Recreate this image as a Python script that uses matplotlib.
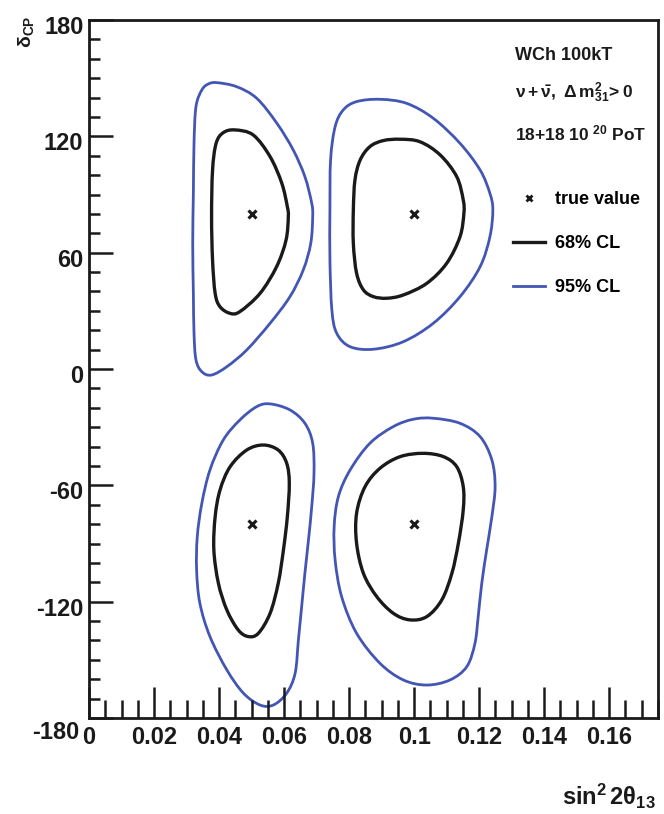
import numpy as np
import matplotlib
matplotlib.use("Agg")
import matplotlib.pyplot as plt
from matplotlib.path import Path
from matplotlib.patches import PathPatch
from matplotlib.lines import Line2D
import matplotlib.transforms as mtransforms

FONT = ["Liberation Sans", "DejaVu Sans"]
plt.rcParams["font.family"] = FONT
plt.rcParams["font.weight"] = "bold"
plt.rcParams["mathtext.fontset"] = "custom"
plt.rcParams["mathtext.rm"] = "Liberation Sans:bold"
plt.rcParams["mathtext.it"] = "Liberation Sans:bold"
plt.rcParams["mathtext.bf"] = "Liberation Sans:bold"
plt.rcParams["mathtext.sf"] = "Liberation Sans:bold"

# true (sin^2 2theta13, delta_CP) points
true_s2t = [0.05, 0.10, 0.05, 0.10]
true_dcp = [80, 80, -80, -80]

# 68% CL contours (closed), one per true point
cl68_s2t = [
    [0.0449, 0.0505, 0.0557, 0.0593, 0.0610, 0.0613, 0.0606, 0.0577, 0.0526, 0.0464,
     0.0434, 0.0403, 0.0388, 0.0380, 0.0377, 0.0380, 0.0391, 0.0413],
    [0.0957, 0.1018, 0.1080, 0.1131, 0.1151, 0.1153, 0.1141, 0.1100, 0.1039, 0.0967,
     0.0916, 0.0875, 0.0844, 0.0823, 0.0813, 0.0813, 0.0818, 0.0834, 0.0864, 0.0905],
    [0.0536, 0.0582, 0.0608, 0.0616, 0.0610, 0.0598, 0.0582, 0.0557, 0.0521, 0.0490,
     0.0459, 0.0424, 0.0398, 0.0384, 0.0388, 0.0403, 0.0434, 0.0485],
    [0.1028, 0.1090, 0.1131, 0.1151, 0.1151, 0.1136, 0.1116, 0.1085, 0.1039, 0.0987,
     0.0936, 0.0885, 0.0844, 0.0823, 0.0823, 0.0849, 0.0895, 0.0957],
]
cl68_dcp = [
    [123.3, 120.7, 109.5, 95.8, 83.7, 78.6, 66.5, 52.8, 39.0, 29.6,
     28.7, 32.1, 39.0, 56.2, 78.6, 102.6, 116.4, 121.9],
    [118.5, 117.2, 110.4, 99.2, 87.2, 80.3, 68.2, 54.5, 44.2, 38.2,
     36.5, 37.3, 40.8, 49.4, 64.8, 82.0, 97.5, 107.8, 114.7, 117.8],
    [-39.2, -41.8, -48.6, -58.9, -76.2, -93.3, -110.5, -126.0, -136.3, -138.0,
     -134.6, -124.3, -110.5, -93.3, -76.2, -62.4, -50.4, -41.8],
    [-43.5, -45.2, -50.4, -60.7, -72.7, -89.9, -105.4, -119.1, -127.7, -129.4,
     -126.0, -117.4, -105.4, -89.9, -74.4, -60.7, -51.2, -45.2],
]

# 95% CL contours (closed)
cl95_s2t = [
    [0.0393, 0.0454, 0.0516, 0.0578, 0.0628, 0.0664, 0.0685, 0.0688, 0.0682, 0.0659,
     0.0618, 0.0557, 0.0485, 0.0424, 0.0377, 0.0347, 0.0329, 0.0323, 0.0321, 0.0319,
     0.0321, 0.0323, 0.0329, 0.0347, 0.0367],
    [0.0895, 0.0977, 0.1059, 0.1141, 0.1203, 0.1233, 0.1242, 0.1233, 0.1203, 0.1141,
     0.1059, 0.0967, 0.0875, 0.0803, 0.0762, 0.0747, 0.0741, 0.0741, 0.0743, 0.0757,
     0.0782, 0.0823],
    [0.0557, 0.0618, 0.0664, 0.0688, 0.0692, 0.0685, 0.0675, 0.0664, 0.0654, 0.0644,
     0.0634, 0.0608, 0.0567, 0.0526, 0.0475, 0.0424, 0.0372, 0.0341, 0.0331, 0.0333,
     0.0347, 0.0372, 0.0413, 0.0464, 0.0516],
    [0.1059, 0.1141, 0.1203, 0.1239, 0.1249, 0.1239, 0.1223, 0.1208, 0.1197, 0.1187,
     0.1162, 0.1110, 0.1039, 0.0967, 0.0895, 0.0823, 0.0777, 0.0757, 0.0754, 0.0767,
     0.0803, 0.0864, 0.0936, 0.0998],
]
cl95_dcp = [
    [147.7, 145.6, 139.6, 126.7, 113.0, 99.2, 85.5, 78.6, 64.8, 51.1,
     37.3, 23.6, 9.8, 1.2, -3.1, -1.4, 4.7, 18.4, 39.0, 64.8,
     90.6, 116.4, 135.3, 143.9, 147.0],
    [139.1, 137.0, 129.3, 116.4, 102.6, 90.6, 82.0, 68.2, 52.8, 37.3,
     23.6, 14.1, 10.2, 11.5, 18.4, 30.4, 56.2, 82.0, 107.8, 125.0,
     133.6, 137.9],
    [-18.0, -21.1, -28.0, -38.3, -53.8, -71.0, -88.2, -105.4, -122.6, -139.8,
     -156.9, -167.2, -173.3, -173.3, -167.2, -155.2, -138.0, -120.8, -103.7, -86.5,
     -69.3, -52.1, -36.6, -26.3, -19.4],
    [-25.4, -28.0, -34.9, -46.9, -60.7, -76.2, -93.3, -110.5, -127.7, -141.5,
     -153.5, -160.4, -163.0, -160.4, -151.8, -136.3, -117.4, -98.5, -81.3, -65.8,
     -52.1, -38.3, -29.7, -25.9],
]

x_ticks = [0, 0.02, 0.04, 0.06, 0.08, 0.10, 0.12, 0.14, 0.16]
x_tick_labels = ["0", "0.02", "0.04", "0.06", "0.08", "0.1", "0.12", "0.14", "0.16"]
y_ticks = [-180, -120, -60, 0, 60, 120, 180]
y_tick_labels = ["-180", "-120", "-60", "0", "60", "120", "180"]

BLUE = "#4356b4"
BLACK = "#1a1a1a"


def closed_smooth_path(xs, ys):
    """Closed Catmull-Rom curve through the given vertices, as cubic Beziers."""
    p = np.column_stack([xs, ys])
    n = len(p)
    verts = [p[0]]
    codes = [Path.MOVETO]
    for i in range(n):
        p0, p1, p2, p3 = p[i - 1], p[i], p[(i + 1) % n], p[(i + 2) % n]
        c1 = p1 + (p2 - p0) / 6.0
        c2 = p2 - (p3 - p1) / 6.0
        verts += [c1, c2, p2]
        codes += [Path.CURVE4] * 3
    return Path(verts, codes)


fig = plt.figure(figsize=(6.64, 8.14), dpi=100)
ax = fig.add_axes([89 / 664, 1 - 718 / 814, (658 - 89) / 664, (718 - 20) / 814])

for xs, ys in zip(cl95_s2t, cl95_dcp):
    ax.add_patch(PathPatch(closed_smooth_path(xs, ys), fill=False,
                           edgecolor=BLUE, lw=2.0))
for xs, ys in zip(cl68_s2t, cl68_dcp):
    ax.add_patch(PathPatch(closed_smooth_path(xs, ys), fill=False,
                           edgecolor=BLACK, lw=2.4))
ax.plot(true_s2t, true_dcp, ls="none", marker="x", ms=6, mew=2.2, color=BLACK)

ax.set_xlim(0, 0.175)
ax.set_ylim(-180, 180)
ax.set_xticks(x_ticks)
ax.set_xticklabels(x_tick_labels)
ax.set_yticks(y_ticks)
ax.set_yticklabels(y_tick_labels)
ax.set_xticks(np.arange(0, 0.1751, 0.005), minor=True)
ax.set_yticks(np.arange(-180, 181, 10), minor=True)

for s in ax.spines.values():
    s.set_linewidth(2.0)
    s.set_color(BLACK)

ax.tick_params(axis="both", which="both", direction="in", top=False, right=False,
               colors=BLACK, width=1.8, labelsize=17)
ax.tick_params(axis="x", which="major", length=22, pad=6)
ax.tick_params(axis="x", which="minor", length=13)
ax.tick_params(axis="y", which="major", length=17, pad=4)
ax.tick_params(axis="y", which="minor", length=8)

shift = mtransforms.ScaledTranslation(0, -5 / 100, fig.dpi_scale_trans)
for lab in ax.get_yticklabels():
    lab.set_transform(lab.get_transform() + shift)
ylabs = ax.get_yticklabels()
ylabs[0].set_transform(ylabs[0].get_transform()
                       + mtransforms.ScaledTranslation(-4 / 100, -7 / 100,
                                                       fig.dpi_scale_trans))
for lab in ax.get_xticklabels() + ax.get_yticklabels():
    lab.set_fontweight("bold")


def px(x, y):
    return x / 664, 1 - y / 814


# axis titles
fig.text(*px(656, 796), r"$\mathrm{sin^{2}\,2\theta_{13}}$",
         ha="right", va="center", fontsize=17, color=BLACK)
fig.text(*px(26, 32), r"$\mathrm{\delta_{CP}}$", rotation=90,
         ha="center", va="center", fontsize=14, color=BLACK)

# header text and legend
fig.text(*px(515, 55), "WCh 100kT", ha="left", va="center", fontsize=13,
         fontweight="bold", color=BLACK)
fig.text(*px(515, 93), r"$\mathrm{\nu+\bar{\nu},\ \Delta\, m^{2}_{31}\!>0}$",
         ha="left", va="center", fontsize=12.5, color=BLACK)
fig.text(*px(515, 133), r"18+18 10 $^{\mathrm{20}}$ PoT", ha="left", va="center",
         fontsize=12.5, fontweight="bold", color=BLACK)

handles = [
    Line2D([], [], ls="none", marker="x", ms=5, mew=2, color=BLACK),
    Line2D([], [], color=BLACK, lw=2.4),
    Line2D([], [], color=BLUE, lw=2.0),
]
labels = ["true value", "68% CL", "95% CL"]
leg = fig.legend(handles, labels, loc="upper left", bbox_to_anchor=px(513, 191),
                 frameon=False, fontsize=13, handlelength=1.75, handletextpad=0.6,
                 labelspacing=1.5, borderaxespad=0, borderpad=0)
for t in leg.get_texts():
    t.set_fontweight("bold")

fig.savefig("out.png", dpi=100)
